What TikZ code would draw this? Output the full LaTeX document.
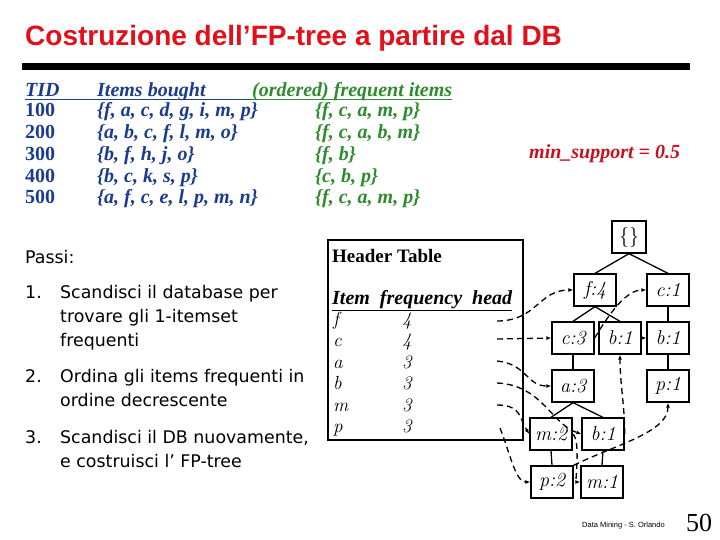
\documentclass[tikz,border=0pt]{standalone}
\usepackage{fontspec}
\newfontfamily\timesfont{Liberation Serif}
\newfontfamily\arialfont{Liberation Sans}
\newfontfamily\tahomafont{DejaVu Sans}
\usetikzlibrary{arrows.meta,positioning}
\definecolor{titlered}{HTML}{E2101A}
\definecolor{dbblue}{HTML}{1A3B8F}
\definecolor{dbgreen}{HTML}{2E8B2E}
\definecolor{minred}{HTML}{C8101E}

\begin{document}
\begin{tikzpicture}[x=1pt,y=-1pt,
      txt/.style={anchor=base west,inner sep=0pt},
      db/.style={txt,font=\timesfont\bfseries\itshape\fontsize{20}{20}\selectfont,text=dbblue},
      dbnum/.style={txt,font=\timesfont\bfseries\fontsize{20}{20}\selectfont,text=dbblue},
      freq/.style={txt,font=\timesfont\bfseries\itshape\fontsize{20}{20}\selectfont,text=dbgreen},
      steptxt/.style={txt,font=\tahomafont\fontsize{17.4}{24}\selectfont,align=left},
      hrow/.style={txt,font=\itshape\fontsize{19}{19}\selectfont},
      tnode/.style={draw,line width=1.3pt,minimum width=42pt,minimum height=32pt,inner sep=2pt,
        font=\itshape\fontsize{20}{20}\selectfont},
      edge/.style={line width=1.3pt},
      link/.style={line width=1.3pt,dash pattern=on 6pt off 4pt,-{Latex[length=5pt,width=4pt]}}]
    \useasboundingbox (0,0) rectangle (720,540);

    % title and bar
    \node[txt,font=\arialfont\bfseries\fontsize{28}{28}\selectfont,text=titlered] (title) at (25,46)
      {Costruzione dell’FP-tree a partire dal DB};
    \fill (22,63) rectangle (690,70);

    % transaction database
    \node[db] (tidh) at (25,96.5) {TID};
    \node[db] (itemsh) at (97,96.5) {Items bought};
    \node[freq] (freqh) at (252,96.5) {(ordered) frequent items};
    \draw[dbblue,line width=1.5pt] (25,99.5) -- (251,99.5);
    \draw[dbgreen,line width=1.5pt] (251,99.5) -- (452,99.5);
    \node[dbnum] (tid1) at (25,117) {100};
    \node[db] (items1) at (97,117) {\{f, a, c, d, g, i, m, p\}};
    \node[freq] (freq1) at (315,117) {\{f, c, a, m, p\}};
    \node[dbnum] (tid2) at (25,138.7) {200};
    \node[db] (items2) at (97,138.7) {\{a, b, c, f, l, m, o\}};
    \node[freq] (freq2) at (315,138.7) {\{f, c, a, b, m\}};
    \node[dbnum] (tid3) at (25,160.4) {300};
    \node[db] (items3) at (97,160.4) {\{b, f, h, j, o\}};
    \node[freq] (freq3) at (315,160.4) {\{f, b\}};
    \node[dbnum] (tid4) at (25,182.1) {400};
    \node[db] (items4) at (97,182.1) {\{b, c, k, s, p\}};
    \node[freq] (freq4) at (315,182.1) {\{c, b, p\}};
    \node[dbnum] (tid5) at (25,203.8) {500};
    \node[db] (items5) at (97,203.8) {\{a, f, c, e, l, p, m, n\}};
    \node[freq] (freq5) at (315,203.8) {\{f, c, a, m, p\}};
    \node[db,text=minred] (minsup) at (529,159) {min\_support = 0.5};

    % steps (multi-line nodes sit on their last baseline)
    \node[steptxt] (passi) at (25,263) {Passi:};
    \node[steptxt] (n1) at (25,298) {1.};
    \node[steptxt] (s1) at (60,346) {Scandisci il database per\\trovare gli 1-itemset\\frequenti};
    \node[steptxt] (n2) at (25,382) {2.};
    \node[steptxt] (s2) at (60,406) {Ordina gli items frequenti in\\ordine decrescente};
    \node[steptxt] (n3) at (25,443) {3.};
    \node[steptxt] (s3) at (60,467) {Scandisci il DB nuovamente,\\e costruisci l’ FP-tree};

    % header table
    \node[draw,line width=1.3pt,minimum width=195pt,minimum height=200pt] (htable) at (425.5,340) {};
    \node[txt,font=\timesfont\bfseries\fontsize{19}{19}\selectfont] (hdr) at (332,262) {Header Table};
    \node[txt,font=\timesfont\bfseries\itshape\fontsize{20}{20}\selectfont] (hcols) at (332,304)
      {\underline{Item\ \ frequency\ \ head}};
    \node[hrow] (itf) at (333,325) {f};   \node[hrow] (cnf) at (402,325) {4};
    \node[hrow] (itc) at (333,346.5) {c}; \node[hrow] (cnc) at (402,346.5) {4};
    \node[hrow] (ita) at (333,368) {a};   \node[hrow] (cna) at (402,368) {3};
    \node[hrow] (itb) at (333,389.5) {b}; \node[hrow] (cnb) at (402,389.5) {3};
    \node[hrow] (itm) at (333,411) {m};   \node[hrow] (cnm) at (402,411) {3};
    \node[hrow] (itp) at (333,432.5) {p}; \node[hrow] (cnp) at (402,432.5) {3};
    \coordinate (hf) at (497,321);
    \coordinate (hc) at (497,339);
    \coordinate (ha) at (497,361);
    \coordinate (hb) at (497,383);
    \coordinate (hm) at (497,405);
    \coordinate (hp) at (500,428);

    % FP-tree
    \node[tnode,minimum width=34pt] (root) at (629,237) {\upshape\{\}};
    \node[tnode] (f4) at (595,290) {f:4};
    \node[tnode] (c1) at (668,290) {c:1};
    \node[tnode] (c3) at (573,338) {c:3};
    \node[tnode] (b1m) at (620,338) {b:1};
    \node[tnode] (b1r) at (668,338) {b:1};
    \node[tnode] (a3) at (573,386) {a:3};
    \node[tnode] (p1) at (668,386) {p:1};
    \node[tnode] (m2) at (551,434) {m:2};
    \node[tnode] (b1l) at (603,434) {b:1};
    \node[tnode] (p2) at (552,482) {p:2};
    \node[tnode] (m1) at (602,482) {m:1};
    \draw[edge] (root.south) -- (f4.north);
    \draw[edge] (root.south) -- (c1.north);
    \draw[edge] (f4.south) -- (c3.north);
    \draw[edge] (f4.south) -- (b1m.north);
    \draw[edge] (c1) -- (b1r);
    \draw[edge] (b1r) -- (p1);
    \draw[edge] (c3) -- (a3);
    \draw[edge] (a3.south) -- (m2.north);
    \draw[edge] (a3.south) -- (b1l.north);
    \draw[edge] (m2.south) -- (p2.north);
    \draw[edge] (b1l.south) -- (m1.north);
    \draw[edge,-{Latex[length=5pt,width=4pt]}] (b1m) -- (b1r);

    % node-links
    \draw[link] (hf) .. controls +(40,0) and +(-35,0) .. (f4.west);
    \draw[link] (hc) -- (c3.west);
    \draw[link] (ha) .. controls +(30,3) and +(-25,0) .. (a3.west);
    \draw[link] (hb) .. controls +(45,2) and +(-30,-10) .. (b1l.west);
    \draw[link] (hm) .. controls +(25,0) and +(-10,-15) .. (m2.west);
    \draw[link] (hp) .. controls +(10,25) and +(-15,0) .. (p2.west);
    \draw[link] (c3.east) .. controls +(15,-25) and +(-20,0) .. (c1.west);
    \draw[link] (b1l.east) .. controls +(0,-30) and +(0,30) .. (b1m.south);
    \draw[link] (p2.north east) .. controls +(40,-20) and +(0,30) .. (p1.south);
    \draw[link] (m2.east) .. controls +(8,5) and +(-5,0) .. (m1.west);

    % footer
    \node[txt,font=\arialfont\fontsize{7.5}{8}\selectfont] (foot) at (582,527) {Data Mining - S. Orlando};
    \node[txt,font=\timesfont\fontsize{26}{26}\selectfont] (page) at (686,531) {50};
  \end{tikzpicture}
\end{document}
